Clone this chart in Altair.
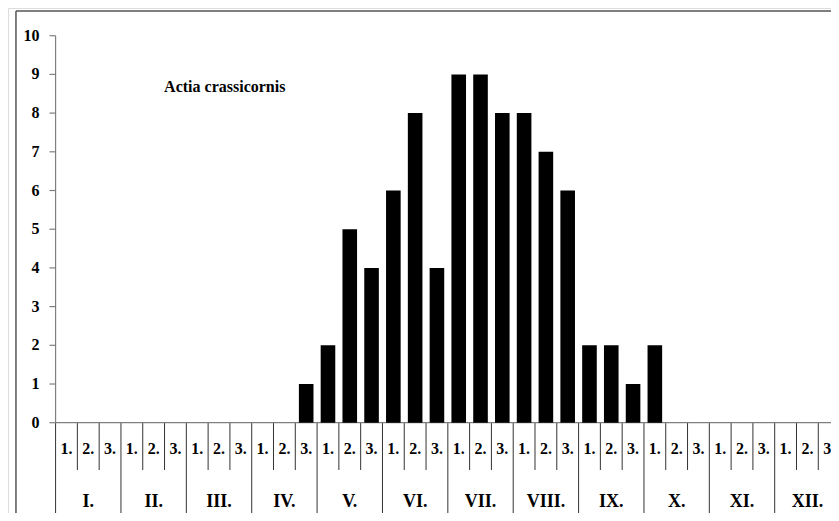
import altair as alt
import pandas as pd

# ---- data ----
months = ["I.", "II.", "III.", "IV.", "V.", "VI.", "VII.", "VIII.", "IX.", "X.", "XI.", "XII."]
decades = ["1.", "2.", "3."]
counts = [0, 0, 0,  0, 0, 0,  0, 0, 0,  0, 0, 1,
          2, 5, 4,  6, 8, 4,  9, 9, 8,  8, 7, 6,
          2, 2, 1,  2, 0, 0,  0, 0, 0,  0, 0, 0]
y_ticks = list(range(0, 11))
species = "Actia crassicornis"

n = len(months) * len(decades)
bars = pd.DataFrame({"idx": list(range(n)), "count": counts,
                     "dec": decades * len(months)})
bounds = pd.DataFrame({"k": list(range(n + 1))})
mdf = pd.DataFrame({"m": list(range(len(months))), "label": months})
ydf = pd.DataFrame({"v": y_ticks})
one = pd.DataFrame({"t": [species]})

FONT = "Liberation Serif, Times New Roman, DejaVu Serif, serif"
XS = alt.Scale(domain=[-1.954, 35.354], nice=False, zero=False)
YS = alt.Scale(domain=[-2.333, 10.716], nice=False, zero=False)
GRAY = "#7f7f7f"
LINE = "#333333"


def X(f):
    return alt.X(f + ":Q", scale=XS, axis=None)


def Y(f):
    return alt.Y(f + ":Q", scale=YS, axis=None)


base1 = alt.Chart(one)

# frame (decoration)
frame_top = base1.transform_calculate(x0="-1.818", x1="36", y0="10.638").mark_rule(
    color="#555555", strokeWidth=1.5).encode(x=X("x0"), x2="x1:Q", y=Y("y0"))
frame_left = base1.transform_calculate(x0="-1.818", y0="10.638", y1="-2.6").mark_rule(
    color="#555555", strokeWidth=1.5).encode(x=X("x0"), y=Y("y0"), y2="y1:Q")

# y-axis line
yaxis = base1.transform_calculate(x0="0", y0="0", y1="10").mark_rule(
    color=GRAY, strokeWidth=1.2).encode(x=X("x0"), y=Y("y0"), y2="y1:Q")
# y ticks
yt = alt.Chart(ydf).transform_calculate(x0="-0.28", x1="0").mark_rule(
    color=GRAY, strokeWidth=1.2).encode(x=X("x0"), x2="x1:Q", y=Y("v"))
ylab = alt.Chart(ydf).transform_calculate(x0="0").mark_text(
    font=FONT, fontWeight="bold", fontSize=16, align="right", baseline="middle",
    dx=-16, color="black").encode(x=X("x0"), y=Y("v"), text="v:Q")

# x-axis line
xaxis = base1.transform_calculate(x0="0", x1="36", y0="0").mark_rule(
    color=GRAY, strokeWidth=1.2).encode(x=X("x0"), x2="x1:Q", y=Y("y0"))

# separators
seps = alt.Chart(bounds).transform_calculate(
    top="0", bottom="datum.k % 3 == 0 ? -2.6 : -1.222"
).mark_rule(color=LINE, strokeWidth=1, clip=True).encode(
    x=X("k"), y=Y("top"), y2="bottom:Q")

# bars
bar = alt.Chart(bars).transform_calculate(c="datum.idx + 0.5", base="0").mark_bar(
    color="black", size=14.6).encode(x=X("c"), y=Y("count"), y2="base:Q")

# decade labels
dlab = alt.Chart(bars).transform_calculate(c="datum.idx + 0.5", yy="-0.687").mark_text(
    font=FONT, fontWeight="bold", fontSize=16, baseline="middle", color="black").encode(
    x=X("c"), y=Y("yy"), text="dec:N")

# month labels
mlab = alt.Chart(mdf).transform_calculate(c="datum.m * 3 + 1.5", yy="-2.04").mark_text(
    font=FONT, fontWeight="bold", fontSize=18, baseline="middle", color="black").encode(
    x=X("c"), y=Y("yy"), text="label:N")

# species title
title = base1.transform_calculate(xx="4.98", yy="8.67").mark_text(
    font=FONT, fontWeight="bold", fontSize=16, align="left", baseline="middle",
    color="black").encode(x=X("xx"), y=Y("yy"), text="t:N")

chart = alt.layer(frame_top, frame_left, seps, xaxis, yaxis, yt, ylab, bar,
                  dlab, mlab, title).properties(
    width=823, height=505, padding=0, autosize="none"
).configure_view(stroke=None, clip=True).configure(background="white")

chart.save("out.html", embed_options={"renderer": "svg", "actions": False})
